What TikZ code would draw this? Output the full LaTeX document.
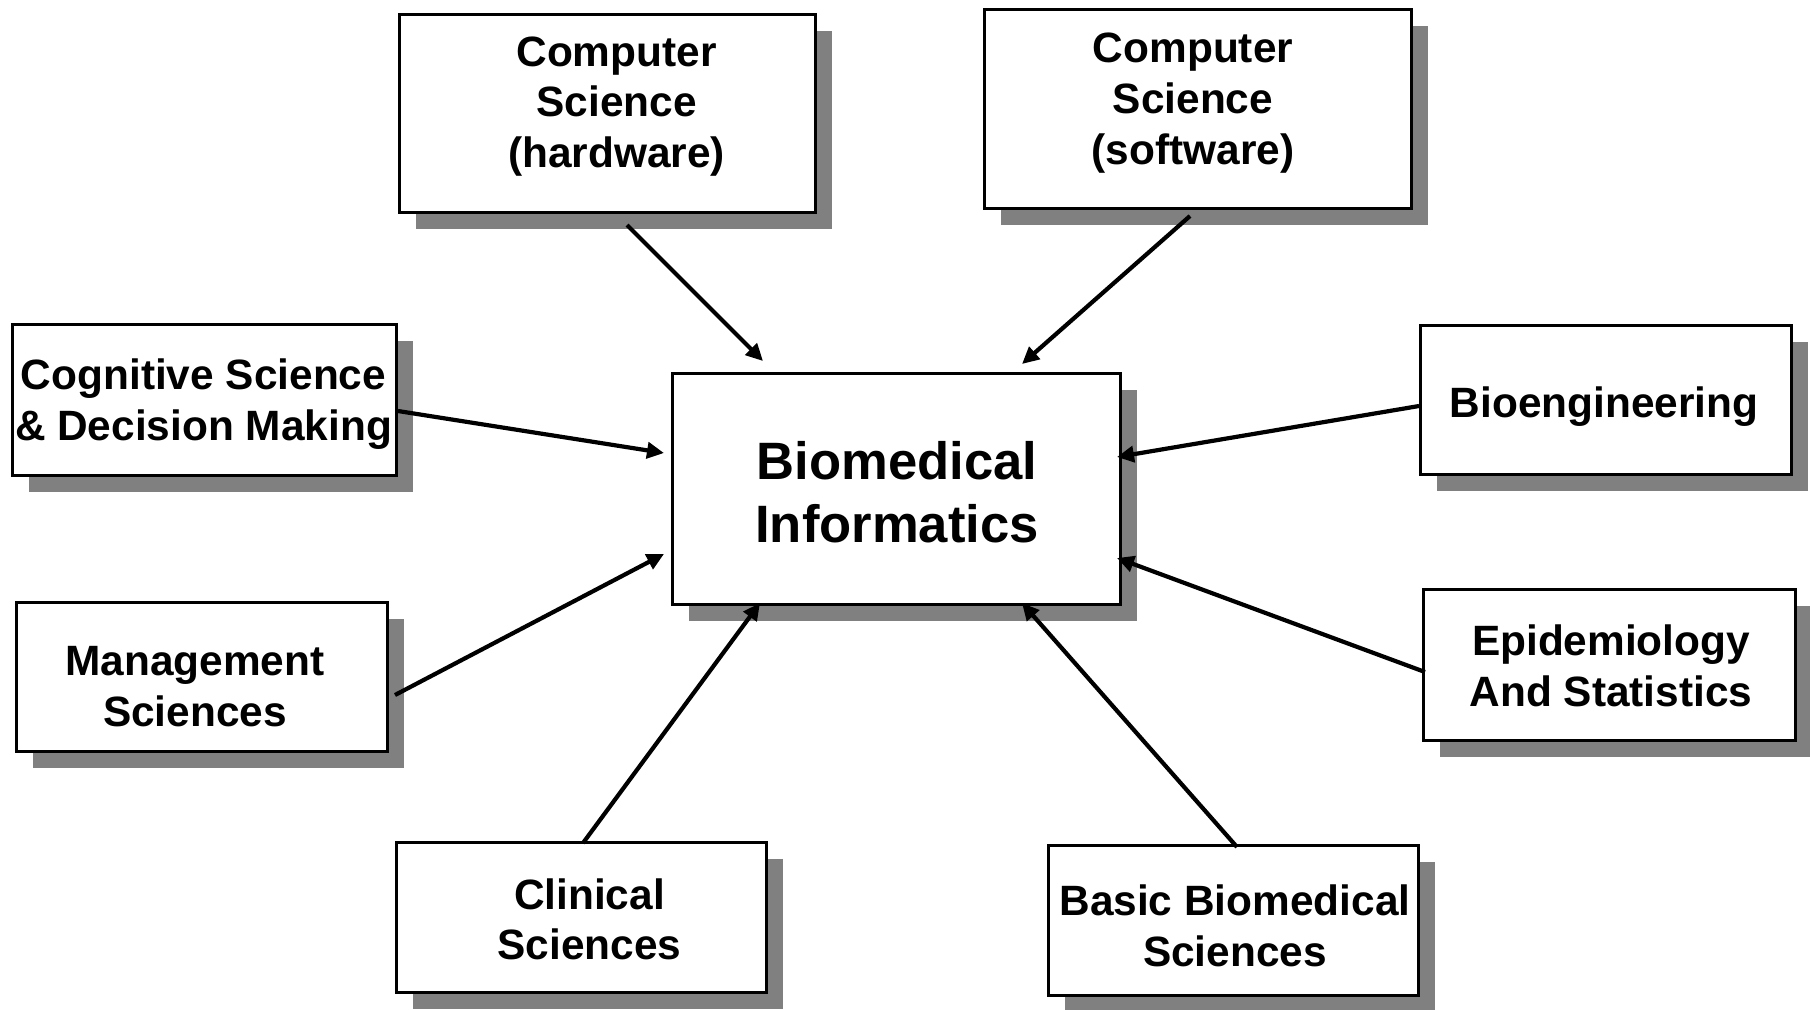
\documentclass[tikz,border=0pt]{standalone}
\usepackage{fontspec}
\setmainfont{Liberation Sans}
\usetikzlibrary{calc,shadows,arrows.meta}

\tikzset{
  panel/.style={draw=black, line width=1.5pt, fill=white, inner sep=0pt,
    drop shadow={shadow xshift=8pt, shadow yshift=-8pt, fill=black!50, opacity=1}},
  lab/.style={align=center, inner sep=0pt,
    font=\bfseries\fontsize{21.2pt}{25.3pt}\selectfont},
  biglab/.style={align=center, inner sep=0pt,
    font=\bfseries\fontsize{26.3pt}{31.5pt}\selectfont},
  feed/.style={line width=2.1pt, -{Triangle[length=8.5pt,width=8pt]}}
}

\begin{document}
\begin{tikzpicture}[x=0.5pt,y=-0.5pt]
  \useasboundingbox (0,0) rectangle (1810,1009);

  % discipline boxes
  \node[panel, minimum width=208pt,   minimum height=99pt]   (hw)    at (607.5,113.5) {};
  \node[panel, minimum width=213.5pt, minimum height=99.5pt] (sw)    at (1198,109)    {};
  \node[panel, minimum width=192pt,   minimum height=75.5pt] (cog)   at (204.5,400)   {};
  \node[panel, minimum width=185.5pt, minimum height=74.5pt] (bio)   at (1606,400)    {};
  \node[panel, minimum width=185.5pt, minimum height=74.5pt] (mgmt)  at (202,677)     {};
  \node[panel, minimum width=186pt,   minimum height=75.5pt] (epi)   at (1609.5,665)  {};
  \node[panel, minimum width=185pt,   minimum height=75pt]   (clin)  at (581.5,917.5) {};
  \node[panel, minimum width=185pt,   minimum height=75pt]   (basic) at (1233.5,920.5) {};
  % central box
  \node[panel, minimum width=224pt,   minimum height=115.5pt] (bmi)  at (896.5,489)   {};

  % box captions
  \node[lab] (hwT)    at ($(hw)+(9,-7)$)     {Computer\\Science\\(hardware)};
  \node[lab] (swT)    at ($(sw)+(-5,-6)$)    {Computer\\Science\\(software)};
  \node[lab] (cogT)   at ($(cog)+(-1,4)$)    {Cognitive Science\\\& Decision Making};
  \node[lab] (bioT)   at ($(bio)+(-2,7)$)    {Bioengineering};
  \node[lab] (mgmtT)  at ($(mgmt)+(-7,9.5)$) {Management\\Sciences};
  \node[lab] (epiT)   at ($(epi)+(1.5,1)$)   {Epidemiology\\And Statistics};
  \node[lab] (clinT)  at ($(clin)+(8,2)$)    {Clinical\\Sciences};
  \node[lab] (basicT) at ($(basic)+(1.5,5.5)$) {Basic Biomedical\\Sciences};
  \node[biglab] (bmiT) at ($(bmi)+(0.5,3.5)$) {Biomedical\\Informatics};

  % arrow tips around the central box
  \coordinate (inHW)    at ($(bmi.north west)+(92,-11)$);
  \coordinate (inSW)    at ($(bmi.north west)+(351,-8)$);
  \coordinate (inCog)   at ($(bmi.north west)+(-7,81)$);
  \coordinate (inBio)   at ($(bmi.north west)+(446,85)$);
  \coordinate (inMgmt)  at ($(bmi.north west)+(-7,182)$);
  \coordinate (inEpi)   at ($(bmi.north west)+(446,186)$);
  \coordinate (inClin)  at ($(bmi.north west)+(89,231)$);
  \coordinate (inBasic) at ($(bmi.north west)+(351,231)$);

  % contributions flowing into biomedical informatics
  \draw[feed] ($(hw.south)+(19.5,11)$)  -- (inHW);
  \draw[feed] ($(sw.south)+(-8,6)$)     -- (inSW);
  \draw[feed] ($(cog.east)+(0,11)$)     -- (inCog);
  \draw[feed] ($(bio.west)+(0,6)$)      -- (inBio);
  \draw[feed] ($(mgmt.east)+(6,18)$)    -- (inMgmt);
  \draw[feed] ($(epi.west)+(3,7)$)      -- (inEpi);
  \draw[feed] ($(clin.north)+(1.5,2)$)  -- (inClin);
  \draw[feed] ($(basic.north)+(3.5,3)$) -- (inBasic);
\end{tikzpicture}
\end{document}
